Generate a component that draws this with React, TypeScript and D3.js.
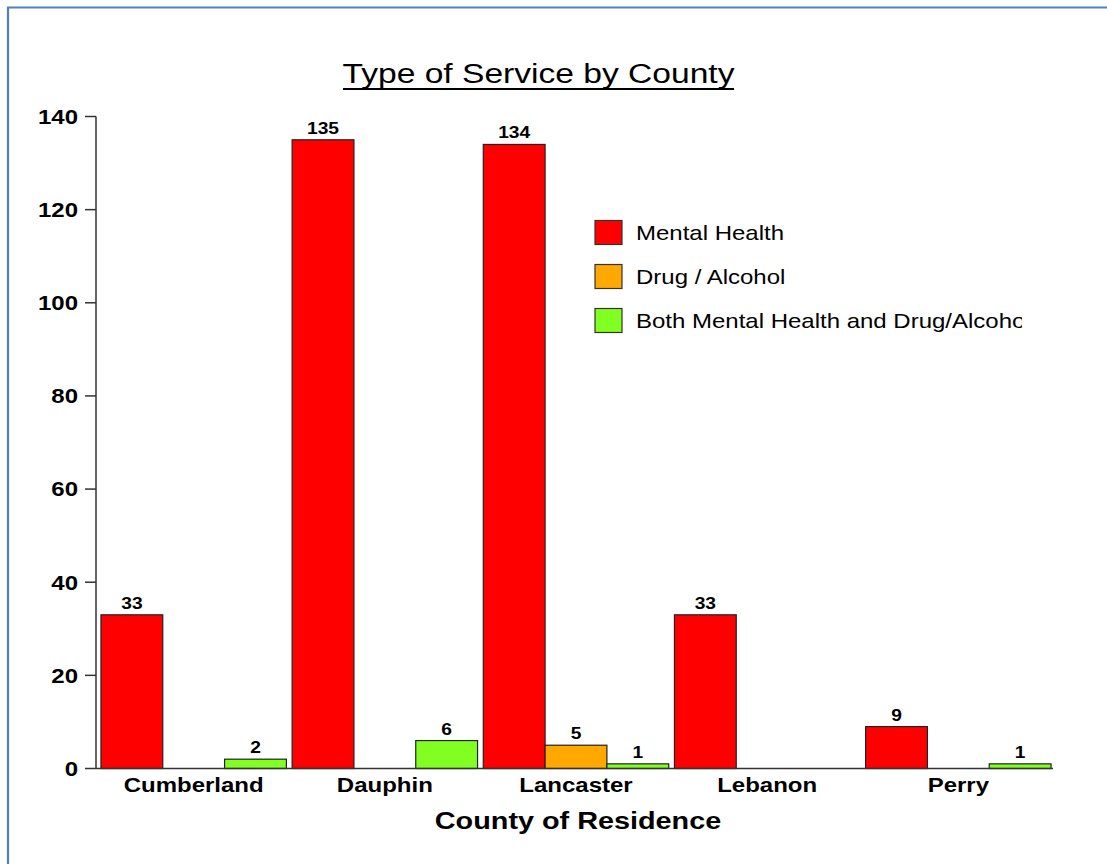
import React from "react";
import * as d3 from "d3";

// Counties and service counts
const counties = ["Cumberland", "Dauphin", "Lancaster", "Lebanon", "Perry"];
const seriesNames = [
  "Mental Health",
  "Drug / Alcohol",
  "Both Mental Health and Drug/Alcohol",
];
const mentalHealth = [33, 135, 134, 33, 9];
const drugAlcohol = [0, 0, 5, 0, 0];
const bothServices = [2, 6, 1, 0, 1];
const seriesColors = ["#FF0000", "#FFA800", "#80FF20"];
const yTicks = [0, 20, 40, 60, 80, 100, 120, 140];

const W = 1107;
const H = 864;
const SX = 1.2; // horizontal text stretch
const FONT = "'Liberation Sans', Arial, sans-serif";

const seriesValues = [mentalHealth, drugAlcohol, bothServices];

function SText(props: {
  x: number;
  y: number;
  size: number;
  weight?: string | number;
  anchor?: "start" | "middle" | "end";
  children: React.ReactNode;
  fill?: string;
}) {
  const { x, y, size, weight = "normal", anchor = "start", children, fill = "#000" } = props;
  return (
    <text
      transform={`translate(${x},${y}) scale(${SX},1)`}
      fontFamily={FONT}
      fontSize={size}
      fontWeight={weight}
      textAnchor={anchor}
      fill={fill}
    >
      {children}
    </text>
  );
}

export default function App() {
  const axisLeft = 96;
  const axisRight = 1053;
  const y = d3.scaleLinear().domain([0, 140]).range([768.5, 116.5]);
  const x0 = d3
    .scaleBand<string>()
    .domain(counties)
    .range([axisLeft, 1056])
    .paddingInner(0.03)
    .paddingOuter(0.026);
  const x1 = d3
    .scaleBand<number>()
    .domain([0, 1, 2])
    .range([0, x0.bandwidth()])
    .padding(0);

  return (
    <svg
      width={W}
      height={H}
      style={{ position: "absolute", left: 0, top: 0, background: "#fff" }}
    >
      <defs>
        <clipPath id="legendClip">
          <rect x={580} y={200} width={442} height={150} />
        </clipPath>
      </defs>
      {/* frame */}
      <path d={`M8,${H + 5} L8,7.5 L${W + 5},7.5`} fill="none" stroke="#4F81BD" strokeWidth={2.2} />

      {/* title */}
      <SText x={538.5} y={83} size={28} anchor="middle">
        Type of Service by County
      </SText>
      <line x1={343} x2={734} y1={89} y2={89} stroke="#000" strokeWidth={2} />

      {/* y axis */}
      <line x1={axisLeft} x2={axisLeft} y1={y(140)} y2={y(0)} stroke="#333" strokeWidth={1.5} />
      {yTicks.map((t) => (
        <g key={t}>
          <line x1={85} x2={axisLeft} y1={y(t)} y2={y(t)} stroke="#333" strokeWidth={1.5} />
          <SText x={78} y={y(t) + 7.3} size={20} weight="bold" anchor="end">
            {t}
          </SText>
        </g>
      ))}

      {/* bars */}
      {counties.map((c, ci) => (
        <g key={c} transform={`translate(${x0(c)},0)`}>
          {seriesValues.map((vals, si) => {
            const v = vals[ci];
            if (!v) return null;
            const bx = x1(si) as number;
            return (
              <g key={si}>
                <rect
                  x={bx}
                  y={y(v)}
                  width={x1.bandwidth()}
                  height={y(0) - y(v)}
                  fill={seriesColors[si]}
                  stroke="#222"
                  strokeWidth={1.2}
                />
                <SText
                  x={bx + x1.bandwidth() / 2}
                  y={y(v) - 6}
                  size={16}
                  weight="bold"
                  anchor="middle"
                >
                  {v}
                </SText>
              </g>
            );
          })}
        </g>
      ))}

      {/* x axis */}
      <line x1={axisLeft} x2={axisRight} y1={y(0)} y2={y(0)} stroke="#333" strokeWidth={1.5} />
      {counties.map((c) => (
        <SText
          key={c}
          x={(x0(c) as number) + x0.bandwidth() / 2}
          y={792}
          size={20}
          weight="bold"
          anchor="middle"
        >
          {c}
        </SText>
      ))}
      <SText x={578} y={828.5} size={24} weight="bold" anchor="middle">
        County of Residence
      </SText>

      {/* legend */}
      <g clipPath="url(#legendClip)">
        {seriesNames.map((name, i) => (
          <g key={name}>
            <rect
              x={595}
              y={220.5 + i * 44}
              width={27}
              height={24}
              fill={seriesColors[i]}
              stroke="#333"
              strokeWidth={1.2}
            />
            <SText x={636} y={239.5 + i * 44} size={20}>
              {name}
            </SText>
          </g>
        ))}
      </g>
    </svg>
  );
}
